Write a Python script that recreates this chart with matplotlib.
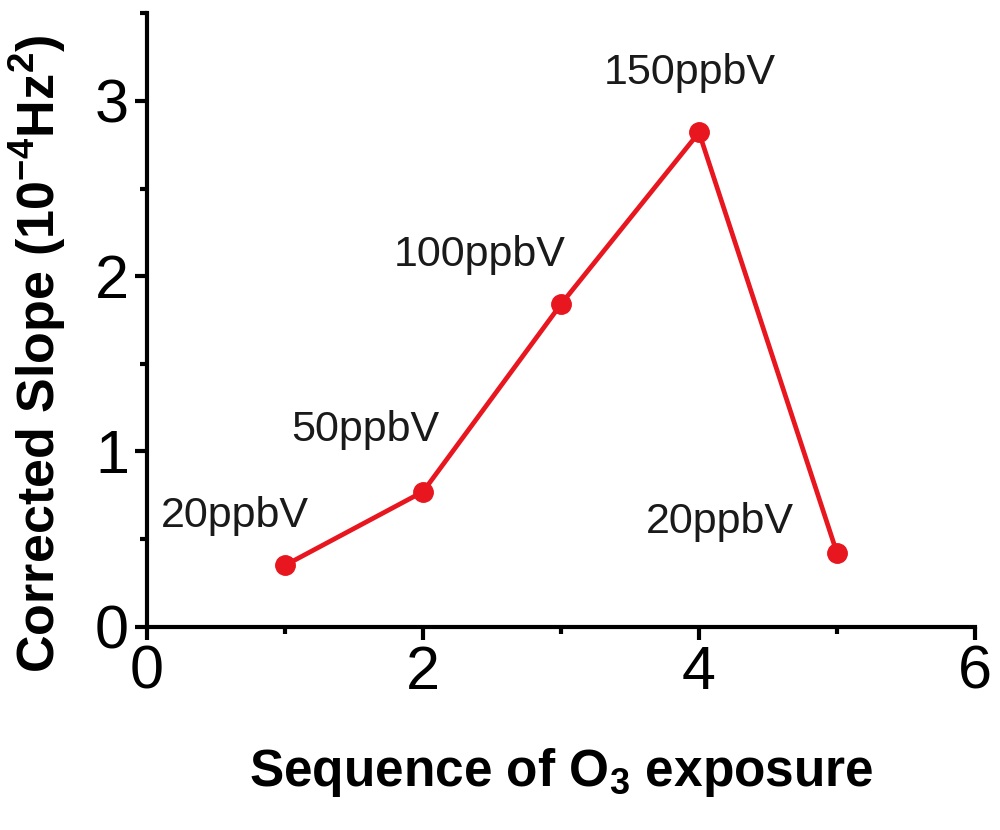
"""Corrected slope vs. sequence of O3 exposure."""
import matplotlib
matplotlib.use("Agg")
import matplotlib.pyplot as plt
from matplotlib.ticker import MultipleLocator

plt.rcParams['font.family'] = ['Liberation Sans', 'DejaVu Sans']
plt.rcParams['mathtext.fontset'] = 'custom'
plt.rcParams['mathtext.rm'] = 'Liberation Sans'
plt.rcParams['mathtext.bf'] = 'Liberation Sans:bold'

# ── data ──────────────────────────────────────────
sequence = [1, 2, 3, 4, 5]
slope = [0.35, 0.77, 1.84, 2.82, 0.42]
conc_labels = ["20ppbV", "50ppbV", "100ppbV", "150ppbV", "20ppbV"]
label_xy = [(0.64, 0.63), (1.58, 1.12), (2.41, 2.12), (3.93, 3.16), (4.15, 0.60)]

fig = plt.figure(figsize=(10, 8.3), dpi=100)
ax = fig.add_axes([0.147, 0.245, 0.828, 0.739])

red = "#e8161e"
ax.plot(sequence, slope, "-o", color=red, lw=3.4, ms=14, mec=red)

for txt, (tx, ty) in zip(conc_labels, label_xy):
    ax.text(tx, ty, txt, fontsize=31, ha="center", va="center", color="#1a1a1a")

ax.set_xlim(0, 6); ax.set_ylim(0, 3.5)
ax.xaxis.set_major_locator(MultipleLocator(2)); ax.xaxis.set_minor_locator(MultipleLocator(1))
ax.yaxis.set_major_locator(MultipleLocator(1)); ax.yaxis.set_minor_locator(MultipleLocator(0.5))
ax.spines[["top", "right"]].set_visible(False)
for s in ("left", "bottom"):
    ax.spines[s].set_linewidth(3)
ax.tick_params(which="major", direction="out", length=9, width=3, labelsize=44, pad=4)
ax.tick_params(which="minor", direction="out", length=5, width=3)

ax.set_xlabel(r"Sequence of O$_\mathbf{3}$ exposure", fontsize=37, fontweight="bold", labelpad=32)
ax.set_ylabel(r"Corrected Slope (10$^{\mathbf{-4}}$Hz$^{\mathbf{2}}$)", fontsize=37.5,
              fontweight="bold")
ax.yaxis.set_label_coords(-0.095, 0.445)

fig.savefig("out.png", dpi=100)
